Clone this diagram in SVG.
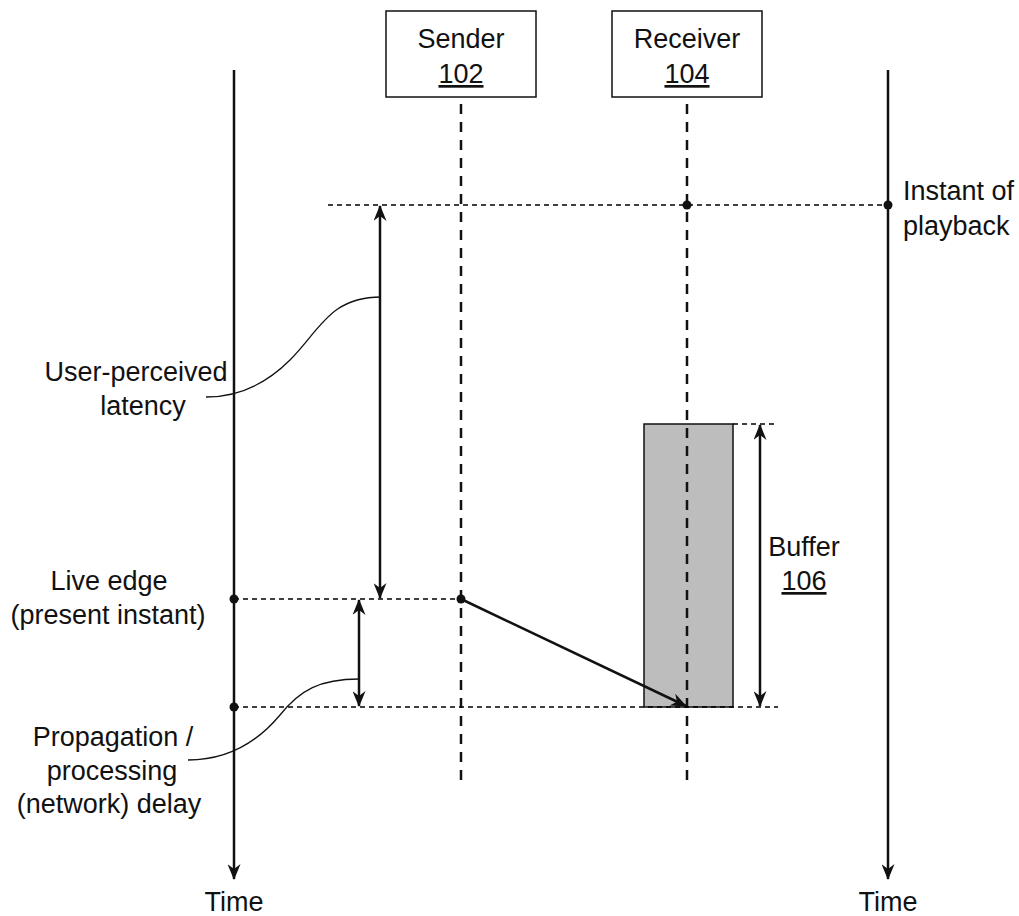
<svg xmlns="http://www.w3.org/2000/svg" width="1019" height="916" viewBox="0 0 1019 916">
<style>
text{font-family:"Liberation Sans",Arial,sans-serif;font-size:27px;fill:#111;}
.c{text-anchor:middle}
.axis{stroke:#111;stroke-width:2.5;fill:none}
.life{stroke:#111;stroke-width:2.5;stroke-dasharray:10,8;fill:none}
.hd{stroke:#000;stroke-width:1.4;stroke-dasharray:5,4;fill:none}
.arr{stroke:#111;stroke-width:2.5;fill:none}
.cur{stroke:#111;stroke-width:1.3;fill:none}
.box{fill:#fff;stroke:#111;stroke-width:1.5}
.dot{fill:#111}
</style>
<defs>
<marker id="ah" viewBox="0 0 16 13" refX="15" refY="6.5" markerWidth="16" markerHeight="13" markerUnits="userSpaceOnUse" orient="auto-start-reverse">
<path d="M0,0 L16,6.5 L0,13 L5,6.5 Z" fill="#111"/>
</marker>
</defs>
<g id="time-left">
<line class="axis" x1="234" y1="70" x2="234" y2="879" marker-end="url(#ah)"/>
<text class="c" x="234" y="911">Time</text>
</g>
<g id="time-right">
<line class="axis" x1="888" y1="70" x2="888" y2="879" marker-end="url(#ah)"/>
<text class="c" x="888" y="911">Time</text>
</g>
<g id="buffer">
<rect x="644" y="424" width="89" height="283" fill="#bdbdbd" stroke="#111" stroke-width="1.5"/>
</g>
<g id="sender">
<rect class="box" x="386" y="11" width="150" height="86"/>
<text class="c" x="461" y="48">Sender</text>
<text class="c" x="461" y="83" text-decoration="underline">102</text>
<line class="life" x1="461" y1="780" x2="461" y2="97"/>
</g>
<g id="receiver">
<rect class="box" x="612" y="11" width="150" height="86"/>
<text class="c" x="687" y="48">Receiver</text>
<text class="c" x="687" y="83" text-decoration="underline">104</text>
<line class="life" x1="687" y1="780" x2="687" y2="97"/>
</g>
<g id="connectors">
<line class="hd" x1="328" y1="205" x2="888" y2="205"/>
<line class="hd" x1="234" y1="599" x2="461" y2="599"/>
<line class="hd" x1="234" y1="707" x2="778" y2="707"/>
<line class="hd" x1="733" y1="424" x2="778" y2="424"/>
<line class="arr" x1="380" y1="206" x2="380" y2="598" marker-start="url(#ah)" marker-end="url(#ah)"/>
<line class="arr" x1="359" y1="600" x2="359" y2="706" marker-start="url(#ah)" marker-end="url(#ah)"/>
<line class="arr" x1="760" y1="425" x2="760" y2="706" marker-start="url(#ah)" marker-end="url(#ah)"/>
<line class="arr" x1="461" y1="599" x2="686" y2="706" marker-end="url(#ah)"/>
<path class="cur" d="M381,297 C330,297 320,330 290,360 C260,390 230,397 206,397"/>
<path class="cur" d="M359,679 C320,679 300,690 280,715 C255,745 225,760 188,760"/>
<circle class="dot" cx="687" cy="205" r="4.5"/>
<circle class="dot" cx="888" cy="205" r="4.5"/>
<circle class="dot" cx="234" cy="599" r="4.5"/>
<circle class="dot" cx="461" cy="599" r="4.5"/>
<circle class="dot" cx="234" cy="707" r="4.5"/>
</g>
<g id="labels">
<text x="903" y="200">Instant of</text>
<text x="903" y="235">playback</text>
<text class="c" x="136" y="381">User-perceived</text>
<text class="c" x="143" y="415">latency</text>
<text class="c" x="109" y="590">Live edge</text>
<text class="c" x="108" y="624">(present instant)</text>
<text class="c" x="113" y="746">Propagation /</text>
<text class="c" x="112" y="780">processing</text>
<text class="c" x="109" y="813">(network) delay</text>
<text class="c" x="804" y="556">Buffer</text>
<text class="c" x="804" y="590" text-decoration="underline">106</text>
</g>
</svg>
